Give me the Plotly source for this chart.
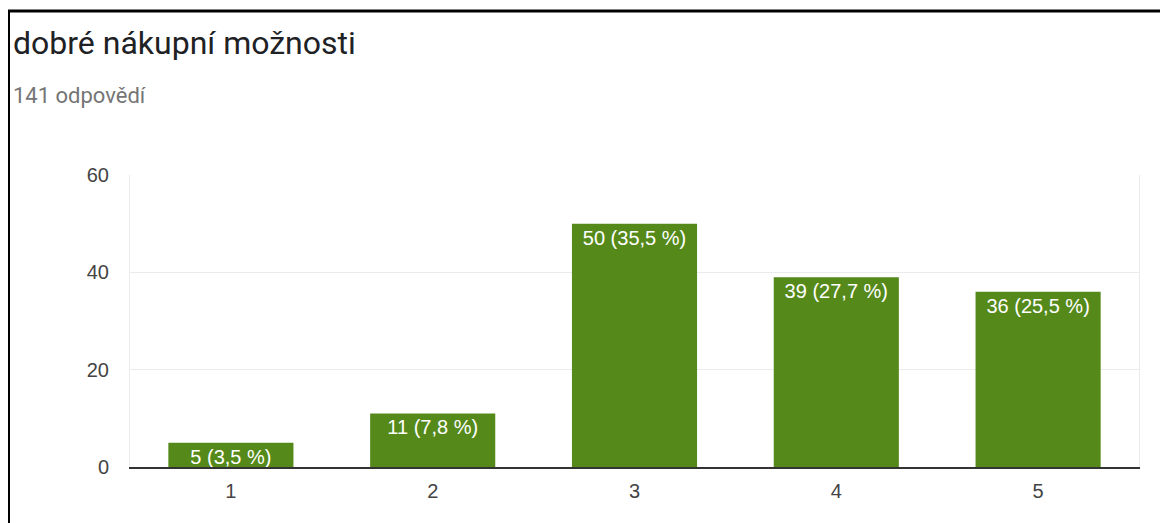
import plotly.graph_objects as go

categories = ["1", "2", "3", "4", "5"]
counts = [5, 11, 50, 39, 36]
percents = [3.5, 7.8, 35.5, 27.7, 25.5]
title_text = "dobré nákupní možnosti"
subtitle_text = "141 odpovědí"
y_ticks = [0, 20, 40, 60]

labels = [f"{c} ({str(p).replace('.', ',')} %)" for c, p in zip(counts, percents)]

# page has an 8px body margin, so the figure is offset by 8px
W, H = 1160, 515
L, R, T, B = 122, 29, 167, 56
pw, ph = W - L - R, H - T - B

def px_x(x):
    return (x - L) / pw

def px_y(y):
    return (H - B - y) / ph

fig = go.Figure(go.Bar(
    x=categories, y=counts, text=labels,
    textposition="inside", insidetextanchor="end",
    textfont=dict(color="white", size=20, family="Liberation Sans, Arial"),
    marker=dict(color="#558a1b", line=dict(width=0)),
    cliponaxis=False,
))

fig.update_layout(
    width=W, height=H,
    margin=dict(l=L, r=R, t=T, b=B, pad=0),
    paper_bgcolor="white", plot_bgcolor="white",
    bargap=0.38,
    showlegend=False,
    uniformtext=dict(minsize=20, mode="show"),
    font=dict(family="Liberation Sans, Arial", size=20, color="#444444"),
    xaxis=dict(showgrid=False, showline=True, linecolor="#333333", linewidth=1.5,
               ticks="", tickfont=dict(size=20, color="#444444"), ticklabelstandoff=5,
               zeroline=False),
    yaxis=dict(range=[0, 60], tickvals=y_ticks, showgrid=True, gridcolor="#ebebeb",
               gridwidth=1, showline=True, linecolor="#ebebeb", mirror=True,
               zeroline=False, ticks="", tickfont=dict(size=20, color="#444444"),
               ticklabelstandoff=16),
    annotations=[
        dict(text=title_text, xref="paper", yref="paper", x=px_x(3), y=px_y(35),
             xanchor="left", yanchor="middle", showarrow=False,
             font=dict(family="Roboto", size=32, color="#202124")),
        dict(text=subtitle_text, xref="paper", yref="paper", x=px_x(3), y=px_y(88),
             xanchor="left", yanchor="middle", showarrow=False,
             font=dict(family="Roboto", size=22, color="#757575")),
    ],
    shapes=[
        dict(type="line", xref="paper", yref="paper", x0=px_x(0.5), x1=px_x(0.5),
             y0=px_y(2), y1=px_y(H + 5), line=dict(color="black", width=3)),
        dict(type="line", xref="paper", yref="paper", x0=px_x(-1), x1=px_x(W + 5),
             y0=px_y(3), y1=px_y(3), line=dict(color="black", width=3)),
    ],
)

fig.write_html("out.html")
